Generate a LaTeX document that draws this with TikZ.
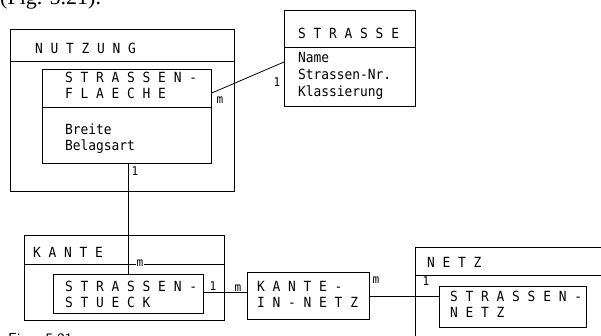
\documentclass[tikz,border=0pt]{standalone}
\usepackage{fontspec}
\setmainfont{Liberation Serif}
\setmonofont[FakeStretch=0.92]{DejaVu Sans Mono}
\begin{document}
\begin{tikzpicture}[x=1pt,y=-1pt,
  box/.style={draw, line width=0.8pt, inner sep=0pt, anchor=north west},
  txt/.style={font=\ttfamily\fontsize{14}{15.5}\selectfont, anchor=base west, inner sep=0pt, align=left},
  attr/.style={font=\ttfamily\fontsize{14}{16.8}\selectfont, anchor=base west, inner sep=0pt, align=left},
  lbl/.style={font=\ttfamily\fontsize{12}{12}\selectfont, inner sep=0.5pt},
  conn/.style={line width=0.8pt},
  divider/.style={line width=0.8pt}]
\useasboundingbox (0,0) rectangle (601,335);
\clip (0,0) rectangle (601,335);

% caption fragments (cut by the page edge)
\node[font=\fontsize{22}{22}\selectfont, anchor=base west, inner sep=0pt] (captop) at (0,4) {(Fig. 5.21).};
\node[font=\sffamily\fontsize{16}{16}\selectfont, anchor=base west, inner sep=0pt] (capbot) at (8,344) {Figur 5.21};

% boxes
\node[box, minimum width=224pt, minimum height=162pt] (nutz) at (10,29) {};
\node[box, minimum width=131pt, minimum height=96pt] (str) at (284,10) {};
\node[box, minimum width=169pt, minimum height=94pt] (sf) at (42,69) {};
\node[box, minimum width=200pt, minimum height=85pt] (kante) at (24,235) {};
\node[box, minimum width=150pt, minimum height=39pt] (ss) at (53,274) {};
\node[box, minimum width=122pt, minimum height=47pt] (kin) at (247,272) {};
\node[box, minimum width=200pt, minimum height=100pt] (netz) at (415,247) {};
\node[box, minimum width=147pt, minimum height=41pt] (snetz) at (439,286) {};

% dividers
\draw[divider] (nutz.west |- 0,61) -- (nutz.east |- 0,61);
\draw[divider] (str.west |- 0,47) -- (str.east |- 0,47);
\draw[divider] (sf.west |- 0,107) -- (sf.east |- 0,107);
\draw[divider] (kante.west |- 0,264) -- (kante.east |- 0,264);
\draw[divider] (netz.west |- 0,275) -- (netz.east |- 0,275);

% texts (anchor = baseline of last line)
\node[txt] (tnutz) at (35,53) {N U T Z U N G};
\node[txt] (tsf) at (65,98) {S T R A S S E N -\\F L A E C H E};
\node[txt] (asf) at (65,150) {Breite\\Belagsart};
\node[txt] (tstr) at (298,38) {S T R A S S E};
\node[attr] (astr) at (298,96) {Name\\Strassen-Nr.\\Klassierung};
\node[txt] (tkante) at (33,257) {K A N T E};
\node[txt] (tss) at (65,307) {S T R A S S E N -\\S T U E C K};
\node[txt] (tkin) at (257,307) {K A N T E -\\I N - N E T Z};
\node[txt] (tnetz) at (427,267) {N E T Z};
\node[txt] (tsnetz) at (450,317) {S T R A S S E N -\\N E T Z};

% connectors
\draw[conn] ([yshift=-24pt]sf.north east) -- ([yshift=-52pt]str.north west);
\draw[conn] (ss.north |- sf.south) -- (ss.north);
\draw[conn] ([yshift=2pt]ss.east) -- ([yshift=2pt]kin.west |- ss.east);
\draw[conn] (kin.east) -- (snetz.west |- kin.east);

% cardinalities
\node[lbl] (m1) at (220,100) {m};
\node[lbl] (o1) at (277,82) {1};
\node[lbl] (o2) at (135,171) {1};
\node[lbl, fill=white] (m2) at (140,263) {m};
\node[lbl] (o3) at (213,286) {1};
\node[lbl] (m3) at (238,288) {m};
\node[lbl] (m4) at (376,280) {m};
\node[lbl] (o4) at (426,281) {1};
\end{tikzpicture}
\end{document}
